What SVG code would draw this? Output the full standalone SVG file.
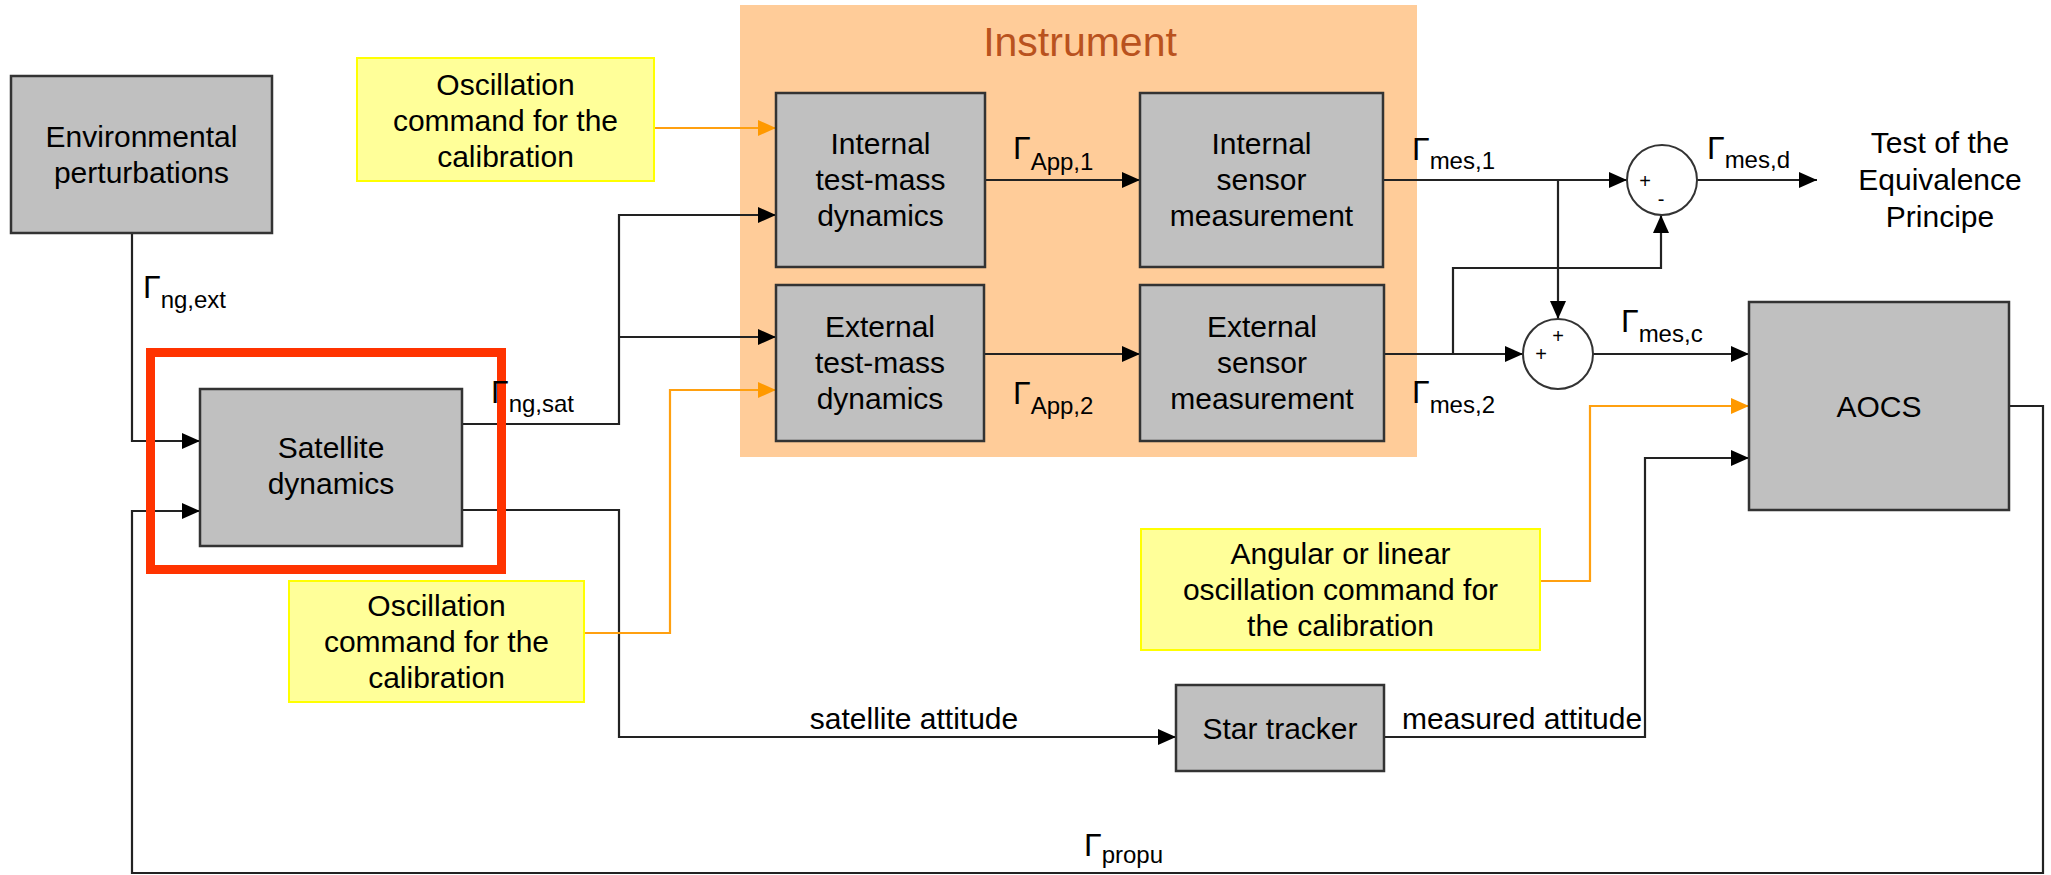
<svg xmlns="http://www.w3.org/2000/svg" width="2051" height="875" viewBox="0 0 2051 875">
  <style>
    text { font-family: "Liberation Sans", Arial, sans-serif; fill: #000; }
    .lbl { font-size: 30px; text-anchor: middle; }
    .gam { font-size: 32px; }
    .sub { font-size: 24px; }
    .sign { font-size: 20px; text-anchor: middle; }
    .block { fill: #C0C0C0; stroke: #333; stroke-width: 2.5; }
    .note { fill: #FFFF99; stroke: #FFFF00; stroke-width: 2; }
    .sum { fill: #fff; stroke: #333; stroke-width: 2; }
    .wire { fill: none; stroke: #222; stroke-width: 2.2; }
    .cmd { fill: none; stroke: #FFA010; stroke-width: 2.2; }
  </style>
  <defs>
    <marker id="arrow" markerUnits="userSpaceOnUse" markerWidth="18" markerHeight="16" refX="18" refY="8" orient="auto">
      <path d="M0,0 L18,8 L0,16 Z" fill="#000"/>
    </marker>
    <marker id="arrow-cmd" markerUnits="userSpaceOnUse" markerWidth="18" markerHeight="16" refX="18" refY="8" orient="auto">
      <path d="M0,0 L18,8 L0,16 Z" fill="#FF9900"/>
    </marker>
  </defs>

  <rect width="2051" height="875" fill="#fff"/>

  <!-- Instrument enclosure -->
  <g id="instrument">
    <rect x="740" y="5" width="677" height="452" fill="#FFCC99"/>
    <text x="1080" y="56" text-anchor="middle" style="font-size:41px; fill:#B9521E">Instrument</text>
  </g>

  <!-- Connectors -->
  <g id="connectors">
    <path class="wire" d="M132,233 V441 H200" marker-end="url(#arrow)"/>
    <path class="wire" d="M2009,406 H2043 V873 H132 V511 H200" marker-end="url(#arrow)"/>
    <path class="wire" d="M462,424 H619 V215 H776" marker-end="url(#arrow)"/>
    <path class="wire" d="M619,337 H776" marker-end="url(#arrow)"/>
    <path class="wire" d="M462,510 H619 V737 H1176" marker-end="url(#arrow)"/>
    <path class="wire" d="M1384,737 H1645 V458 H1749" marker-end="url(#arrow)"/>
    <path class="wire" d="M985,180 H1140" marker-end="url(#arrow)"/>
    <path class="wire" d="M984,354 H1140" marker-end="url(#arrow)"/>
    <path class="wire" d="M1383,180 H1627" marker-end="url(#arrow)"/>
    <path class="wire" d="M1558,180 V319" marker-end="url(#arrow)"/>
    <path class="wire" d="M1384,354 H1523" marker-end="url(#arrow)"/>
    <path class="wire" d="M1453,354 V268 H1661 V215" marker-end="url(#arrow)"/>
    <path class="wire" d="M1697,180 H1817" marker-end="url(#arrow)"/>
    <path class="wire" d="M1593,354 H1749" marker-end="url(#arrow)"/>
    <path class="cmd" d="M654,128 H776" marker-end="url(#arrow-cmd)"/>
    <path class="cmd" d="M584,633 H670 V390 H776" marker-end="url(#arrow-cmd)"/>
    <path class="cmd" d="M1540,581 H1590 V406 H1749" marker-end="url(#arrow-cmd)"/>
  </g>

  <!-- Blocks -->
  <g id="environment">
    <rect class="block" x="11" y="76" width="261" height="157"/>
    <text class="lbl" x="141.5" y="147">Environmental</text>
    <text class="lbl" x="141.5" y="183">perturbations</text>
  </g>

  <g id="satellite">
    <rect class="block" x="200" y="389" width="262" height="157"/>
    <text class="lbl" x="331" y="458">Satellite</text>
    <text class="lbl" x="331" y="494">dynamics</text>
  </g>

  <g id="internal-tm">
    <rect class="block" x="776" y="93" width="209" height="174"/>
    <text class="lbl" x="880.5" y="154">Internal</text>
    <text class="lbl" x="880.5" y="190">test-mass</text>
    <text class="lbl" x="880.5" y="226">dynamics</text>
  </g>

  <g id="internal-sensor">
    <rect class="block" x="1140" y="93" width="243" height="174"/>
    <text class="lbl" x="1261.5" y="154">Internal</text>
    <text class="lbl" x="1261.5" y="190">sensor</text>
    <text class="lbl" x="1261.5" y="226">measurement</text>
  </g>

  <g id="external-tm">
    <rect class="block" x="776" y="285" width="208" height="156"/>
    <text class="lbl" x="880" y="337">External</text>
    <text class="lbl" x="880" y="373">test-mass</text>
    <text class="lbl" x="880" y="409">dynamics</text>
  </g>

  <g id="external-sensor">
    <rect class="block" x="1140" y="285" width="244" height="156"/>
    <text class="lbl" x="1262" y="337">External</text>
    <text class="lbl" x="1262" y="373">sensor</text>
    <text class="lbl" x="1262" y="409">measurement</text>
  </g>

  <g id="aocs">
    <rect class="block" x="1749" y="302" width="260" height="208"/>
    <text class="lbl" x="1879" y="417">AOCS</text>
  </g>

  <g id="star-tracker">
    <rect class="block" x="1176" y="685" width="208" height="86"/>
    <text class="lbl" x="1280" y="739">Star tracker</text>
  </g>

  <!-- Calibration commands -->
  <g id="cmd-internal">
    <rect class="note" x="357" y="58" width="297" height="123"/>
    <text class="lbl" x="505.5" y="95">Oscillation</text>
    <text class="lbl" x="505.5" y="131">command for the</text>
    <text class="lbl" x="505.5" y="167">calibration</text>
  </g>

  <g id="cmd-external">
    <rect class="note" x="289" y="581" width="295" height="121"/>
    <text class="lbl" x="436.5" y="616">Oscillation</text>
    <text class="lbl" x="436.5" y="652">command for the</text>
    <text class="lbl" x="436.5" y="688">calibration</text>
  </g>

  <g id="cmd-aocs">
    <rect class="note" x="1141" y="529" width="399" height="121"/>
    <text class="lbl" x="1340.5" y="564">Angular or linear</text>
    <text class="lbl" x="1340.5" y="600">oscillation command for</text>
    <text class="lbl" x="1340.5" y="636">the calibration</text>
  </g>

  <!-- Summing points -->
  <g id="diff-junction">
    <circle class="sum" cx="1662" cy="180" r="35"/>
    <text class="sign" x="1645" y="188">+</text>
    <text class="sign" x="1661" y="206">-</text>
  </g>

  <g id="sum-junction">
    <circle class="sum" cx="1558" cy="354" r="35"/>
    <text class="sign" x="1558" y="343">+</text>
    <text class="sign" x="1541" y="361">+</text>
  </g>

  <g id="ep-test">
    <text class="lbl" x="1940" y="153">Test of the</text>
    <text class="lbl" x="1940" y="190">Equivalence</text>
    <text class="lbl" x="1940" y="227">Principe</text>
  </g>

  <!-- Highlight frame around the satellite block -->
  <rect x="150.5" y="352.5" width="351" height="217" fill="none" stroke="#FF3300" stroke-width="9"/>

  <!-- Signal labels -->
  <g id="signal-labels">
    <text class="gam" x="143" y="298">Γ<tspan class="sub" dy="10">ng,ext</tspan></text>
    <text class="gam" x="491" y="403">Γ<tspan class="sub" dy="9">ng,sat</tspan></text>
    <text class="gam" x="1013" y="159">Γ<tspan class="sub" dy="11">App,1</tspan></text>
    <text class="gam" x="1013" y="404">Γ<tspan class="sub" dy="10">App,2</tspan></text>
    <text class="gam" x="1412" y="160">Γ<tspan class="sub" dy="9">mes,1</tspan></text>
    <text class="gam" x="1412" y="403">Γ<tspan class="sub" dy="10">mes,2</tspan></text>
    <text class="gam" x="1621" y="332">Γ<tspan class="sub" dy="10">mes,c</tspan></text>
    <text class="gam" x="1707" y="159">Γ<tspan class="sub" dy="9">mes,d</tspan></text>
    <text class="gam" x="1084" y="856">Γ<tspan class="sub" dy="7">propu</tspan></text>
    <text class="lbl" x="914" y="729">satellite attitude</text>
    <text class="lbl" x="1522" y="729">measured attitude</text>
  </g>
</svg>
